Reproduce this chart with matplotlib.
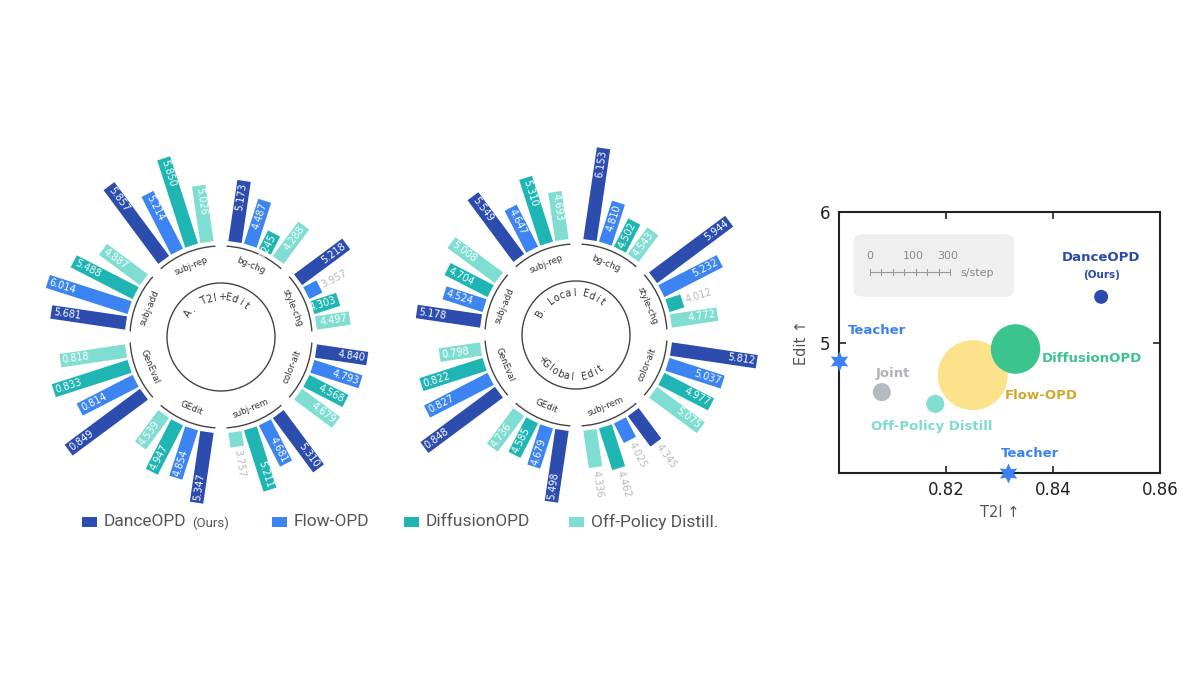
import numpy as np
import matplotlib.pyplot as plt
import matplotlib.transforms as mtransforms
from matplotlib.patches import Rectangle, Arc, Circle, FancyBboxPatch

plt.rcParams['font.family'] = ['DejaVu Sans']

# ---------------- data ----------------
categories = ['subj-add', 'subj-rep', 'bg-chg', 'style-chg',
              'color-alt', 'subj-rem', 'GEdit', 'GenEval']
methods = ['DanceOPD', 'Flow-OPD', 'DiffusionOPD', 'Off-Policy Distill.']
colors = ['#2c4cae', '#3b84f2', '#1fb5b2', '#80ddd2']

# rows = categories, cols = methods (DanceOPD, Flow-OPD, DiffusionOPD, Off-Policy)
a_vals = [
    [5.681, 6.014, 5.488, 4.887],
    [5.857, 5.214, 5.850, 5.026],
    [5.173, 4.487, 3.245, 4.288],
    [5.218, 3.957, 4.303, 4.497],
    [4.840, 4.793, 4.568, 4.679],
    [5.310, 4.681, 5.211, 3.757],
    [5.347, 4.854, 4.947, 4.539],
    [0.849, 0.814, 0.833, 0.818],
]
b_vals = [
    [5.178, 4.524, 4.704, 5.008],
    [5.549, 4.647, 5.310, 4.693],
    [6.153, 4.810, 4.502, 4.543],
    [5.944, 5.232, 4.012, 4.772],
    [5.812, 5.037, 4.977, 5.075],
    [4.345, 4.025, 4.462, 4.336],
    [5.498, 4.679, 4.585, 4.736],
    [0.848, 0.827, 0.822, 0.798],
]
# radial scale per category: (value at bar base, value at full length)
a_domain = [(3.24, 6.47), (3.67, 6.05), (2.30, 6.95), (3.55, 6.33),
            (3.05, 6.50), (3.32, 6.26), (3.56, 6.06), (0.743, 0.856)]
b_domain = [(3.32, 6.18), (3.22, 6.25), (3.65, 6.35), (3.63, 6.07),
            (3.47, 6.17), (3.585, 5.585), (3.54, 6.24), (0.757, 0.855)]
# (category, method) whose value label sits outside the bar
a_outside = [(3, 1), (5, 3)]
b_outside = [(3, 2), (5, 0), (5, 1), (5, 2), (5, 3)]

# scatter: T2I vs Edit, bubble = s/step
sc_names = ['Flow-OPD', 'DiffusionOPD', 'DanceOPD', 'Off-Policy Distill', 'Joint']
sc_t2i = [0.825, 0.833, 0.849, 0.818, 0.808]
sc_edit = [4.75, 4.95, 5.35, 4.53, 4.62]
sc_step = [300, 150, 12, 20, 20]
sc_colors = ['#fde28c', '#3cc48e', '#2b4aad', '#80dfd0', '#b6b8c2']
sc_text_colors = ['#d4a72c', '#3cc48e', '#2b4aad', '#7fdccc', '#b0b2bb']
teacher_t2i = [0.800, 0.8316]
teacher_edit = [4.86, 4.00]

# ---------------- radial charts ----------------
R0, W, LMAX = 96, 13.5, 100
R_RING, R_LAB, R_IN = 91, 77, 54
STEP = 9.4


def arc_text(ax, s, r, start, step, top=True):
    for k, ch in enumerate(s):
        th = start - k * step if top else start + k * step
        rot = th - 90 if top else th + 90
        t = np.radians(th)
        ax.text(r * np.cos(t), r * np.sin(t), ch, rotation=rot, ha='center',
                va='center', rotation_mode='anchor', fontsize=7, color='#333')


def radial(ax, vals, domain, outside):
    ax.set_xlim(-190, 190)
    ax.set_ylim(-190, 190)
    ax.set_aspect('equal')
    ax.axis('off')
    ax.add_patch(Circle((0, 0), R_IN, fill=False, ec='#444', lw=1))
    for c, (cat, row, (lo, hi)) in enumerate(zip(categories, vals, domain)):
        tc = 157.5 - 45 * c
        ax.add_patch(Arc((0, 0), 2 * R_RING, 2 * R_RING, theta1=tc - 19,
                         theta2=tc + 19, color='#444', lw=1))
        t = np.radians(tc)
        rot = tc - 90 if np.sin(t) > 0 else tc + 90
        ax.text(R_LAB * np.cos(t), R_LAB * np.sin(t), cat, rotation=rot,
                ha='center', va='center', rotation_mode='anchor',
                fontsize=6.3, color='#333')
        for i, v in enumerate(row):
            th = tc + (1.5 - i) * STEP
            L = max(LMAX * (v - lo) / (hi - lo), 8)
            tr = mtransforms.Affine2D().rotate_deg(th) + ax.transData
            ax.add_patch(Rectangle((R0, -W / 2), L, W, fc=colors[i], lw=0,
                                   transform=tr))
            right = np.cos(np.radians(th)) >= 0
            rot = th if right else th - 180
            if (c, i) in outside:
                r = R0 + L + 3
                ha = 'left' if right else 'right'
                col = '#b8b8b8'
            else:
                r = R0 + L - 2
                ha = 'right' if right else 'left'
                col = 'white'
            a = np.radians(th)
            ax.text(r * np.cos(a), r * np.sin(a), f'{v:.3f}', rotation=rot,
                    ha=ha, va='center', rotation_mode='anchor',
                    fontsize=7, color=col)


fig = plt.figure(figsize=(12, 6.75), dpi=100)

ax_a = fig.add_axes([(221 - 190) / 1200, (675 - 337 - 190) / 675, 380 / 1200, 380 / 675])
radial(ax_a, a_vals, a_domain, a_outside)
arc_text(ax_a, 'A. T2I+Edit', 40, 145, 9.4)

ax_b = fig.add_axes([(576 - 190) / 1200, (675 - 335 - 190) / 675, 380 / 1200, 380 / 675])
radial(ax_b, b_vals, b_domain, b_outside)
arc_text(ax_b, 'B. Local Edit', 42, 150, 8.2)
arc_text(ax_b, '+Global Edit', 42, -145, 8.3, top=False)

# legend below the radial charts
leg_x = [82, 272, 404, 569]
for x, m, c in zip(leg_x, methods, colors):
    fig.add_artist(Rectangle((x / 1200, (675 - 527) / 675), 15 / 1200, 10 / 675,
                             fc=c, lw=0, transform=fig.transFigure))
    fig.text((x + 22) / 1200, (675 - 522) / 675, m, fontsize=12.5,
             family='Roboto', color='#555', va='center')
fig.text(192 / 1200, (675 - 523) / 675, '(Ours)', fontsize=9.5,
         family='Roboto', color='#555', va='center')

# ---------------- scatter ----------------
ax = fig.add_axes([839 / 1200, (675 - 473) / 675, 321 / 1200, 261 / 675])
ax.set_xlim(0.80, 0.86)
ax.set_ylim(4.0, 6.0)
ax.set_xticks([0.82, 0.84, 0.86])
ax.set_yticks([5, 6])
ax.set_xticklabels(['0.82', '0.84', '0.86'])
ax.tick_params(direction='in', top=True, right=True, labelsize=12,
               length=5, width=1.2, colors='#222', pad=6)
for s in ax.spines.values():
    s.set_linewidth(1.5)
    s.set_color('#222')
ax.set_xlabel('T2I ↑', fontsize=10.5, color='#555', labelpad=4)
ax.set_ylabel('Edit ↑', fontsize=10.5, color='#555', labelpad=8)

ax.scatter(sc_t2i, sc_edit, s=[8.47 * v for v in sc_step], c=sc_colors,
           lw=0, zorder=3)
ax.scatter(teacher_t2i, teacher_edit, s=210, marker=(6, 1, 0), c='#3b82f6',
           lw=0, zorder=4, clip_on=False)

offsets = {'Flow-OPD': (23, -15, 'left'), 'DiffusionOPD': (19, -7, 'left'),
           'Off-Policy Distill': (-46, -16.5, 'left'), 'Joint': (8, 13.5, 'center')}
for n, x, y, tc in zip(sc_names, sc_t2i, sc_edit, sc_text_colors):
    if n == 'DanceOPD':
        ax.annotate('DanceOPD', (x, y), xytext=(0, 28), textcoords='offset points',
                    ha='center', va='center', fontsize=9.5, fontweight='bold', color=tc)
        ax.annotate('(Ours)', (x, y), xytext=(0, 16), textcoords='offset points',
                    ha='center', va='center', fontsize=7.5, fontweight='bold', color=tc)
        continue
    dx, dy, ha = offsets[n]
    ax.annotate(n, (x, y), xytext=(dx, dy), textcoords='offset points', ha=ha,
                va='center', fontsize=9.5, fontweight='bold', color=tc)
for (x, y), (dx, dy) in zip(zip(teacher_t2i, teacher_edit), [(27, 22), (16, 14)]):
    ax.annotate('Teacher', (x, y), xytext=(dx, dy), textcoords='offset points',
                ha='center', va='center', fontsize=9.5, fontweight='bold',
                color='#3b82f6', annotation_clip=False)

# size key
ax.add_patch(FancyBboxPatch((0.045, 0.675), 0.50, 0.24, transform=ax.transAxes,
                            boxstyle='round,pad=0,rounding_size=0.03',
                            fc='#efefef', ec='none', zorder=1))
x0, x1, yk = 0.0966, 0.346, 0.771
ax.plot([x0, x1], [yk, yk], color='#999', lw=0.8, transform=ax.transAxes, zorder=2)
for tx in np.linspace(x0, x1, 8):
    ax.plot([tx, tx], [yk - 0.012, yk + 0.012], color='#999', lw=0.8,
            transform=ax.transAxes, zorder=2)
for tx, lab in zip([0.0966, 0.2305, 0.3396], ['0', '100', '300']):
    ax.text(tx, 0.83, lab, transform=ax.transAxes, ha='center', va='center',
            fontsize=8, color='#888')
ax.text(0.377, 0.767, 's/step', transform=ax.transAxes, ha='left', va='center',
        fontsize=8, color='#888')

fig.savefig('out.png', dpi=100, facecolor='white')
